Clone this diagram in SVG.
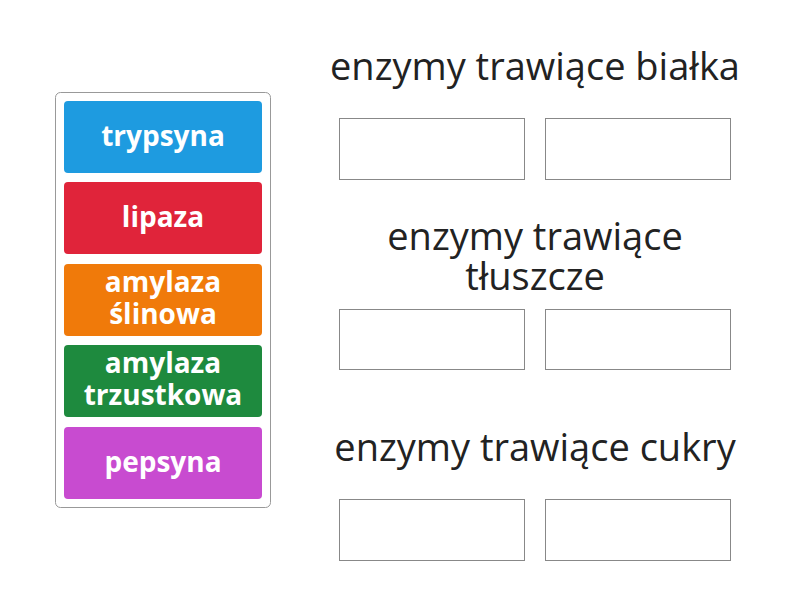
<svg xmlns="http://www.w3.org/2000/svg" width="800" height="600" viewBox="0 0 800 600">
<style>
.t{font-family:"Open Sans",sans-serif;font-weight:bold;font-size:28px;fill:#fff;text-anchor:middle}
.h{font-family:"Open Sans",sans-serif;font-size:38px;fill:#222;text-anchor:middle}
.slot{fill:#fff;stroke:#888;stroke-width:1}
</style>
<rect width="800" height="600" fill="#fff"/>
<rect x="55.5" y="92.5" width="215" height="415" rx="5" fill="#fff" stroke="#999"/>
<g id="trypsyna"><rect x="64" y="101" width="198" height="72" rx="4" fill="#1E9BE0"/><text class="t" x="163" y="146">trypsyna</text></g>
<g id="lipaza"><rect x="64" y="182" width="198" height="72" rx="4" fill="#E0243A"/><text class="t" x="163" y="227">lipaza</text></g>
<g id="amylaza-slinowa"><rect x="64" y="264" width="198" height="72" rx="4" fill="#F07A0A"/><text class="t" x="163" y="292">amylaza</text><text class="t" x="163" y="324">ślinowa</text></g>
<g id="amylaza-trzustkowa"><rect x="64" y="345" width="198" height="72" rx="4" fill="#1E8A3E"/><text class="t" x="163" y="373">amylaza</text><text class="t" x="163" y="405">trzustkowa</text></g>
<g id="pepsyna"><rect x="64" y="427" width="198" height="72" rx="4" fill="#C84BD0"/><text class="t" x="163" y="472">pepsyna</text></g>
<g id="bialka"><text class="h" x="535" y="80">enzymy trawiące białka</text>
<rect class="slot" x="339.5" y="118.5" width="185" height="61"/><rect class="slot" x="545.5" y="118.5" width="185" height="61"/></g>
<g id="tluszcze"><text class="h" x="535" y="250">enzymy trawiące</text><text class="h" x="535" y="290">tłuszcze</text>
<rect class="slot" x="339.5" y="309.5" width="185" height="60"/><rect class="slot" x="545.5" y="309.5" width="185" height="60"/></g>
<g id="cukry"><text class="h" x="535" y="461">enzymy trawiące cukry</text>
<rect class="slot" x="339.5" y="499.5" width="185" height="61"/><rect class="slot" x="545.5" y="499.5" width="185" height="61"/></g>
<g id="connectors"/>
</svg>
